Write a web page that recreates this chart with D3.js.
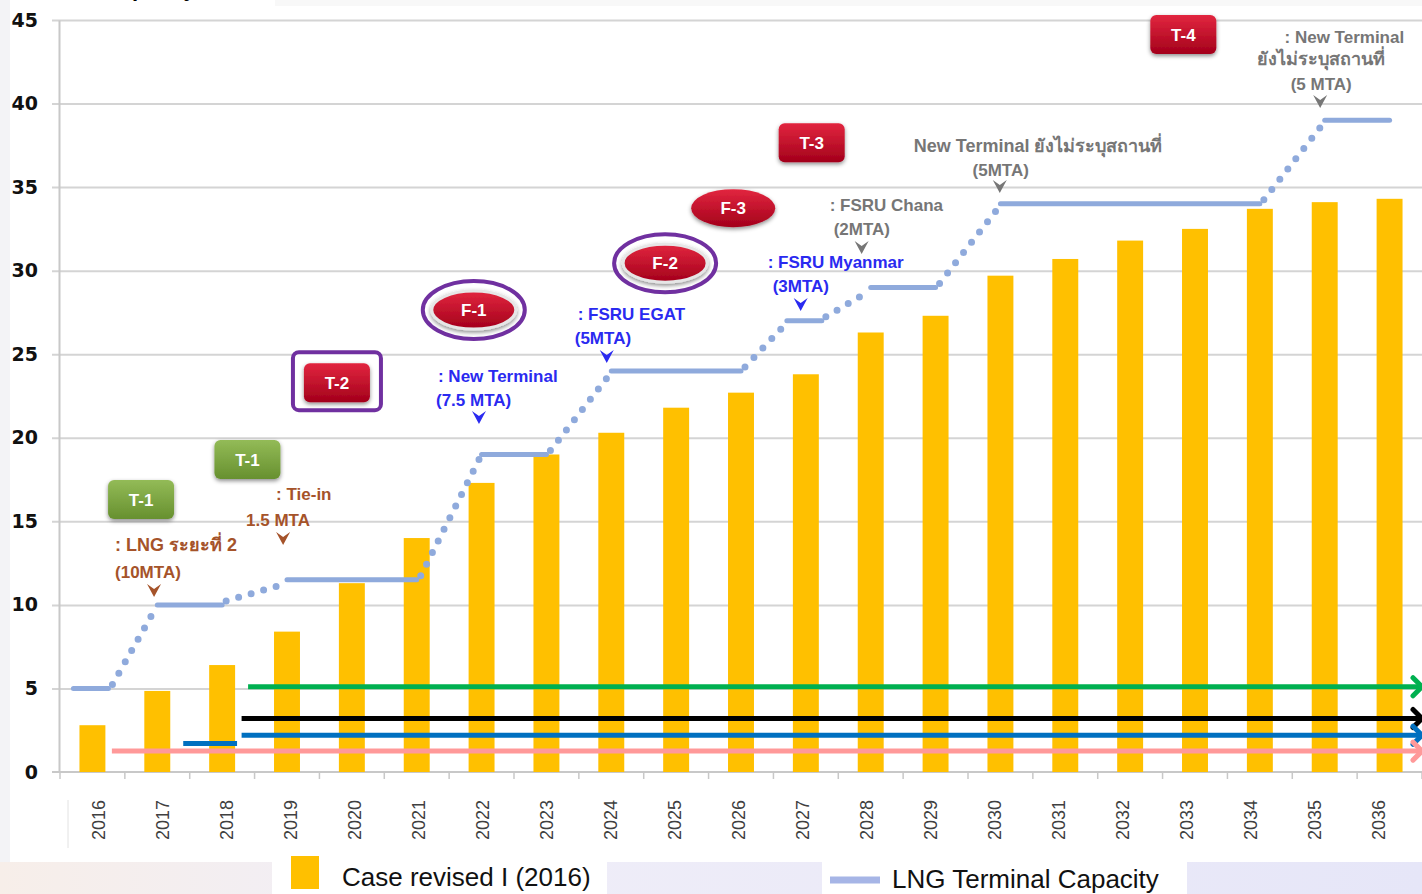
<!DOCTYPE html>
<html>
<head>
<meta charset="utf-8">
<script src="https://cdn.jsdelivr.net/npm/d3@7"></script>
<style>
  body { margin: 0; background: #fff; }
  svg { display: block; }
</style>
</head>
<body>
<svg id="chart" width="1422" height="894"></svg>
<script>
// values
const years = ["2016","2017","2018","2019","2020","2021","2022","2023","2024","2025","2026",
               "2027","2028","2029","2030","2031","2032","2033","2034","2035","2036"];
const demand = [2.8, 4.85, 6.4, 8.4, 11.3, 14.0, 17.3, 19.0, 20.3, 21.8, 22.7,
                23.8, 26.3, 27.3, 29.7, 30.7, 31.8, 32.5, 33.7, 34.1, 34.3];
const capacity = [5, 10, 10, 11.5, 11.5, 11.5, 19, 19, 24, 24, 24,
                  27, 29, 29, 34, 34, 34, 34, 34, 39, 39];
const yTicks = [0, 5, 10, 15, 20, 25, 30, 35, 40, 45];

// horizontal reference arrows: level + starting year
const refLevels = [5.1, 3.2, 2.2, 1.25];
const refStarts = [2018.4, 2018.3, 2018.3, 2016.3];
const refColors = ["#00b050", "#000000", "#0070c0", "#ff9999"];
const shortBlue = { level: 1.7, from: 2017.4, to: 2018.23 };

const legendLabels = ["Case revised I (2016)", "LNG Terminal Capacity"];

// badges (year / value of centre)
const badges = [
  { t: "T-1", kind: "rect", color: "green", year: 2016.75, val: 16.28 },
  { t: "T-1", kind: "rect", color: "green", year: 2018.39, val: 18.67 },
  { t: "T-2", kind: "rect", color: "red", ring: true, year: 2019.77, val: 23.27 },
  { t: "F-1", kind: "ell", color: "red", ring: true, year: 2021.88, val: 27.64 },
  { t: "F-2", kind: "ell", color: "red", ring: true, year: 2024.83, val: 30.45 },
  { t: "F-3", kind: "ell", color: "red", year: 2025.88, val: 33.74 },
  { t: "T-3", kind: "rect", color: "red", year: 2027.09, val: 37.63 },
  { t: "T-4", kind: "rect", color: "red", year: 2032.82, val: 44.1 }
];

// annotations: chevron tip in data coords, text lines offset from it
const notes = [
  { year: 2016.95, val: 10.47, c: "#a5532a", lines: [
    [": LNG ระยะที่ 2", -39, -46, "start"], ["(10MTA)", -39, -19, "start"]] },
  { year: 2018.94, val: 13.58, c: "#a5532a", lines: [
    [": Tie-in", -7, -45, "start"], ["1.5 MTA", -37, -19, "start"]] },
  { year: 2021.96, val: 20.82, c: "#2a2af0", lines: [
    [": New Terminal", -41, -42, "start"], ["(7.5 MTA)", -43, -18, "start"]] },
  { year: 2023.93, val: 24.47, c: "#2a2af0", lines: [
    [": FSRU EGAT", -29, -43, "start"], ["(5MTA)", -32, -19, "start"]] },
  { year: 2026.92, val: 27.59, c: "#2a2af0", lines: [
    [": FSRU Myanmar", -33, -43, "start"], ["(3MTA)", -28, -19, "start"]] },
  { year: 2027.86, val: 31.0, c: "#767676", lines: [
    [": FSRU Chana", -32, -43, "start"], ["(2MTA)", -28, -19, "start"]] },
  { year: 2029.99, val: 34.65, c: "#767676", lines: [
    ["New Terminal ยังไม่ระบุสถานที่", -86, -41, "start"], ["(5MTA)", 1, -17, "middle"]] },
  { year: 2034.93, val: 39.73, c: "#767676", lines: [
    [": New Terminal", 84, -65, "end"], ["ยังไม่ระบุสถานที่", 1, -43, "middle"], ["(5 MTA)", 1, -18, "middle"]] }
];

const svg = d3.select("#chart");
const W = 1422, H = 894;
const mLeft = 60, mRight = 1422, mTop = 20, mBottom = 772;

const x = d3.scaleBand().domain(years).range([mLeft, mRight]).paddingInner(0.6).paddingOuter(0.3);
const xc = d => x(d) + x.bandwidth() / 2;
const xLin = d3.scaleLinear().domain([2016, 2036]).range([xc("2016"), xc("2036")]);
const y = d3.scaleLinear().domain([0, 45]).range([mBottom, mTop]);
const xLab = d3.scalePoint().domain(years).range([98, 1378]);

const defs = svg.append("defs");
const gr = defs.append("linearGradient").attr("id", "gRed").attr("x1", 0).attr("y1", 0).attr("x2", 0).attr("y2", 1);
gr.append("stop").attr("offset", "0%").attr("stop-color", "#e2263f");
gr.append("stop").attr("offset", "100%").attr("stop-color", "#a3001b");
const gg = defs.append("linearGradient").attr("id", "gGreen").attr("x1", 0).attr("y1", 0).attr("x2", 0).attr("y2", 1);
gg.append("stop").attr("offset", "0%").attr("stop-color", "#93bb57");
gg.append("stop").attr("offset", "100%").attr("stop-color", "#67902f");
const gb = defs.append("linearGradient").attr("id", "gBottom").attr("x1", 0).attr("y1", 0).attr("x2", 1).attr("y2", 0);
gb.append("stop").attr("offset", "0%").attr("stop-color", "#f7eee9");
gb.append("stop").attr("offset", "30%").attr("stop-color", "#f0eef8");
gb.append("stop").attr("offset", "100%").attr("stop-color", "#e6e6f8");
const sh = defs.append("filter").attr("id", "shadow").attr("x", "-30%").attr("y", "-30%").attr("width", "160%").attr("height", "170%");
sh.append("feDropShadow").attr("dx", 0).attr("dy", 2).attr("stdDeviation", 2).attr("flood-opacity", 0.45);

// slide background bits
svg.append("rect").attr("x", 0).attr("y", 0).attr("width", 10).attr("height", H).attr("fill", "#f3f3f6");
svg.append("rect").attr("x", 275).attr("y", 0).attr("width", W - 275).attr("height", 6).attr("fill", "#f8f8f8");
svg.append("rect").attr("x", 0).attr("y", 862).attr("width", W).attr("height", 32).attr("fill", "url(#gBottom)");
svg.append("rect").attr("x", 272).attr("y", 855).attr("width", 335).attr("height", 39).attr("fill", "#fff");
svg.append("rect").attr("x", 822).attr("y", 862).attr("width", 365).attr("height", 32).attr("fill", "#fff");
// title of the slide, clipped by the top edge as in the picture
svg.append("text").attr("x", 104).attr("y", -4).attr("font-family", "Liberation Sans")
  .attr("font-weight", "bold").attr("font-size", 22).text("Capacity");

// gridlines
svg.append("g").attr("transform", `translate(52,0)`)
  .call(d3.axisLeft(y).tickValues(yTicks.slice(1)).tickSize(-(mRight - 52)).tickFormat(""))
  .call(g => g.select(".domain").remove())
  .call(g => g.selectAll("line").attr("stroke", "#d4d4d4").attr("stroke-width", 2));

// y axis
svg.append("g").attr("transform", `translate(59,0)`)
  .call(d3.axisLeft(y).tickValues(yTicks).tickSize(0).tickPadding(21))
  .call(g => g.select(".domain").attr("stroke", "#c8c8c8").attr("stroke-width", 2))
  .call(g => g.selectAll("text").attr("font-family", "DejaVu Sans").attr("font-weight", "bold")
    .attr("font-size", 19).attr("fill", "#111"));

// x axis baseline + boundary ticks
svg.append("line").attr("x1", 52).attr("x2", mRight).attr("y1", mBottom).attr("y2", mBottom)
  .attr("stroke", "#c8c8c8").attr("stroke-width", 2);
svg.append("g").selectAll("line").data(d3.range(years.length + 1)).join("line")
  .attr("x1", i => mLeft + i * x.step()).attr("x2", i => mLeft + i * x.step())
  .attr("y1", mBottom).attr("y2", mBottom + 7).attr("stroke", "#c8c8c8").attr("stroke-width", 1.5);
svg.append("line").attr("x1", 68).attr("x2", 68).attr("y1", 800).attr("y2", 848)
  .attr("stroke", "#e2e2e2").attr("stroke-width", 1);

svg.append("g").attr("transform", `translate(0,${mBottom})`)
  .call(d3.axisBottom(xLab).tickSize(0))
  .call(g => g.select(".domain").remove())
  .call(g => g.selectAll("text").attr("transform", "rotate(-90)").attr("x", -48).attr("y", 0)
    .attr("dy", "0.35em").attr("text-anchor", "middle").attr("font-family", "Liberation Sans")
    .attr("font-size", 18).attr("fill", "#404040"));

// bars
svg.append("g").selectAll("rect").data(years).join("rect")
  .attr("x", d => x(d)).attr("width", x.bandwidth())
  .attr("y", (d, i) => y(demand[i])).attr("height", (d, i) => y(0) - y(demand[i]))
  .attr("fill", "#ffc000");

// reference arrows
const refs = refLevels.map((v, i) => ({ v, s: refStarts[i], c: refColors[i] }));
const rg = svg.append("g");
rg.append("line").attr("x1", xLin(shortBlue.from)).attr("x2", xLin(shortBlue.to))
  .attr("y1", y(shortBlue.level)).attr("y2", y(shortBlue.level))
  .attr("stroke", "#0070c0").attr("stroke-width", 5);
rg.selectAll("line.ref").data(refs).join("line").attr("class", "ref")
  .attr("x1", d => xLin(d.s)).attr("x2", mRight).attr("y1", d => y(d.v)).attr("y2", d => y(d.v))
  .attr("stroke", d => d.c).attr("stroke-width", 5);
rg.selectAll("path.head").data(refs).join("path").attr("class", "head")
  .attr("d", d => `M${mRight - 9},${y(d.v) - 9}L${mRight},${y(d.v)}L${mRight - 9},${y(d.v) + 9}`)
  .attr("fill", "none").attr("stroke", d => d.c).attr("stroke-width", 5).attr("stroke-linecap", "round");

// capacity steps
const runs = [];
capacity.forEach((v, i) => {
  const last = runs[runs.length - 1];
  if (last && last.v === v) last.to = i; else runs.push({ v, from: i, to: i });
});
runs.forEach(r => {
  r.x0 = xc(years[r.from]); r.x1 = xc(years[r.to]);
  if (r.from === r.to) { r.x0 -= 19; r.x1 += 16; }
});
const cg = svg.append("g");
cg.selectAll("line.dot").data(runs.slice(1)).join("line").attr("class", "dot")
  .attr("x1", (d, i) => runs[i].x1 + 4).attr("y1", (d, i) => y(runs[i].v) - 4)
  .attr("x2", d => d.x0 - 2).attr("y2", d => y(d.v) + 4)
  .attr("stroke", "#8faadc").attr("stroke-width", 7).attr("stroke-linecap", "round")
  .attr("stroke-dasharray", "0 13");
cg.selectAll("line.step").data(runs).join("line").attr("class", "step")
  .attr("x1", d => d.x0).attr("x2", d => d.x1).attr("y1", d => y(d.v)).attr("y2", d => y(d.v))
  .attr("stroke", "#8faadc").attr("stroke-width", 5).attr("stroke-linecap", "round");

// annotations
const ng = svg.append("g").attr("font-family", "Liberation Sans").attr("font-weight", "bold").attr("font-size", 17);
notes.forEach(n => {
  const px = xLin(n.year), py = y(n.val);
  ng.append("path").attr("transform", `translate(${px},${py})`)
    .attr("d", "M-7,-13L0,0L7,-13L0,-8Z").attr("fill", n.c);
  n.lines.forEach(l => {
    ng.append("text").attr("x", px + l[1]).attr("y", py + l[2]).attr("text-anchor", l[3])
      .attr("fill", n.c).attr("font-size", /[\u0E00-\u0E7F]/.test(l[0]) ? 18 : 17).text(l[0]);
  });
});

// badges
const bg = svg.append("g");
badges.forEach(b => {
  const cx = xLin(b.year), cy = y(b.val);
  const g = bg.append("g").attr("transform", `translate(${cx},${cy})`);
  const fill = b.color === "green" ? "url(#gGreen)" : "url(#gRed)";
  if (b.kind === "rect") {
    if (b.ring) g.append("rect").attr("x", -44).attr("y", -31).attr("width", 88).attr("height", 58)
      .attr("rx", 6).attr("fill", "#fff").attr("stroke", "#7030a0").attr("stroke-width", 4);
    g.append("rect").attr("x", -33).attr("y", -20).attr("width", 66).attr("height", 39).attr("rx", 6)
      .attr("fill", fill).attr("filter", "url(#shadow)");
  } else {
    if (b.ring) g.append("ellipse").attr("rx", 51).attr("ry", 29).attr("fill", "#fff")
      .attr("stroke", "#7030a0").attr("stroke-width", 4);
    g.append("ellipse").attr("rx", 42).attr("ry", 19).attr("fill", fill)
      .attr("stroke", "#e6e6e6").attr("stroke-width", b.ring ? 3 : 0).attr("filter", "url(#shadow)");
  }
  g.append("text").attr("y", 6).attr("text-anchor", "middle").attr("fill", "#fff")
    .attr("font-family", "Liberation Sans").attr("font-weight", "bold").attr("font-size", 17).text(b.t);
});

// legend
const lg = svg.append("g").attr("font-family", "Liberation Sans").attr("font-size", 26).attr("fill", "#111");
lg.append("rect").attr("x", 291).attr("y", 856).attr("width", 28).attr("height", 33).attr("fill", "#ffc000");
lg.append("text").attr("x", 342).attr("y", 886).text(legendLabels[0]);
lg.append("line").attr("x1", 830).attr("x2", 880).attr("y1", 880).attr("y2", 880)
  .attr("stroke", "#a6b5e6").attr("stroke-width", 7);
lg.append("text").attr("x", 892).attr("y", 888).text(legendLabels[1]);
</script>
</body>
</html>
